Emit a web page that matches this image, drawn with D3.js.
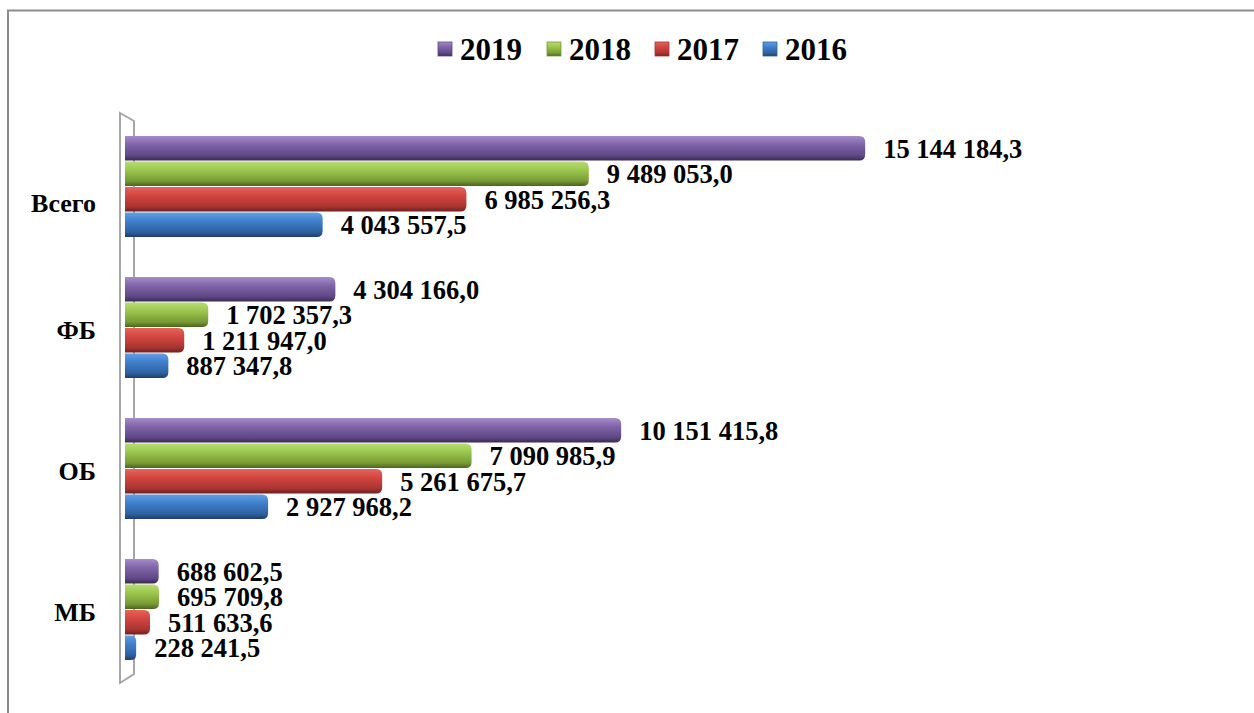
<!DOCTYPE html>
<html>
<head>
<meta charset="utf-8">
<script src="https://cdn.jsdelivr.net/npm/d3@7"></script>
<style>
  html, body { margin: 0; padding: 0; background: #fff; }
  svg { display: block; }
  text { font-family: "Times New Roman", "Liberation Serif", Tinos, serif; font-weight: bold; fill: #000; }
</style>
</head>
<body>
<svg id="chart" width="1254" height="713"></svg>
<script>
// ---- data ----
const categories = ["Всего", "ФБ", "ОБ", "МБ"];
const seriesNames = ["2019", "2018", "2017", "2016"];
const values2019 = [15144184.3, 4304166.0, 10151415.8, 688602.5];
const values2018 = [9489053.0, 1702357.3, 7090985.9, 695709.8];
const values2017 = [6985256.3, 1211947.0, 5261675.7, 511633.6];
const values2016 = [4043557.5, 887347.8, 2927968.2, 228241.5];
const seriesValues = [values2019, values2018, values2017, values2016];

// ---- styles ----
const palettes = {
  "2019": ["#a58cca", "#8064a8", "#5f4785", "#3a2a52"],
  "2018": ["#b8dc72", "#9bc64e", "#779a33", "#4b6320"],
  "2017": ["#e8625c", "#d24641", "#a83431", "#6c2220"],
  "2016": ["#62a0e4", "#3f7fcc", "#2f60a0", "#1d3d68"]
};

const svg = d3.select("#chart");
const W = 1254, H = 713;

// gradients
const defs = svg.append("defs");
seriesNames.forEach(s => {
  const g = defs.append("linearGradient").attr("id", "g" + s)
    .attr("x1", 0).attr("y1", 0).attr("x2", 0).attr("y2", 1);
  const p = palettes[s];
  g.append("stop").attr("offset", "0%").attr("stop-color", p[0]);
  g.append("stop").attr("offset", "35%").attr("stop-color", p[1]);
  g.append("stop").attr("offset", "80%").attr("stop-color", p[2]);
  g.append("stop").attr("offset", "100%").attr("stop-color", p[3]);
});

// outer border
svg.append("path")
  .attr("d", `M8,${H} L8,10.5 L${W},10.5`)
  .attr("fill", "none").attr("stroke", "#8c8c8c").attr("stroke-width", 2);

// scales
const x = d3.scaleLinear().domain([0, 16000000]).range([125, 125 + 782]);
const y = d3.scaleBand().domain(categories).range([116.5, 680.5])
  .paddingInner(0.277).paddingOuter(0.1385);
const ySub = d3.scaleBand().domain(seriesNames).range([0, y.bandwidth()]).padding(0);

// 3D wall
svg.append("path")
  .attr("d", "M120,113 L134,121 L134,674 L120,683 Z")
  .attr("fill", "#fff").attr("stroke", "#a6a6a6").attr("stroke-width", 2);

// category axis labels
svg.append("g").selectAll("text").data(categories).join("text")
  .attr("x", 96)
  .attr("y", d => y(d) + y.bandwidth() / 2 + (d === "Всего" ? 16 : 2))
  .attr("text-anchor", "end")
  .attr("dominant-baseline", "central")
  .attr("font-size", 26)
  .text(d => d);

// bars
function barPath(x0, x1, y0, h) {
  const r = Math.min(6, (x1 - x0) / 2);
  return `M${x0},${y0} L${x1 - r},${y0} Q${x1},${y0} ${x1},${y0 + r} L${x1},${y0 + h - r} Q${x1},${y0 + h} ${x1 - r},${y0 + h} L${x0},${y0 + h} Z`;
}

const fmt = v => {
  const parts = v.toFixed(1).split(".");
  const int = parts[0].replace(/\B(?=(\d{3})+(?!\d))/g, " ");
  return int + "," + parts[1];
};

seriesNames.forEach((s, si) => {
  const g = svg.append("g");
  const data = categories.map((c, ci) => ({ c, v: seriesValues[si][ci] }));
  g.selectAll("path").data(data).join("path")
    .attr("d", d => barPath(x(0), x(d.v), y(d.c) + ySub(s), ySub.bandwidth() - 1))
    .attr("fill", `url(#g${s})`);
  g.selectAll("text").data(data).join("text")
    .attr("x", d => x(d.v) + 18)
    .attr("y", d => y(d.c) + ySub(s) + ySub.bandwidth() / 2)
    .attr("dominant-baseline", "central")
    .attr("font-size", 26.5)
    .text(d => fmt(d.v));
});

// legend
const legendX = [438, 547, 655, 763];
const lg = svg.append("g");
seriesNames.forEach((s, i) => {
  lg.append("rect").attr("x", legendX[i]).attr("y", 42).attr("width", 14).attr("height", 14)
    .attr("fill", `url(#g${s})`).attr("stroke", palettes[s][2]).attr("stroke-width", 0.8);
  lg.append("text").attr("x", legendX[i] + 22).attr("y", 60)
    .attr("font-size", 31).text(s);
});
</script>
</body>
</html>
